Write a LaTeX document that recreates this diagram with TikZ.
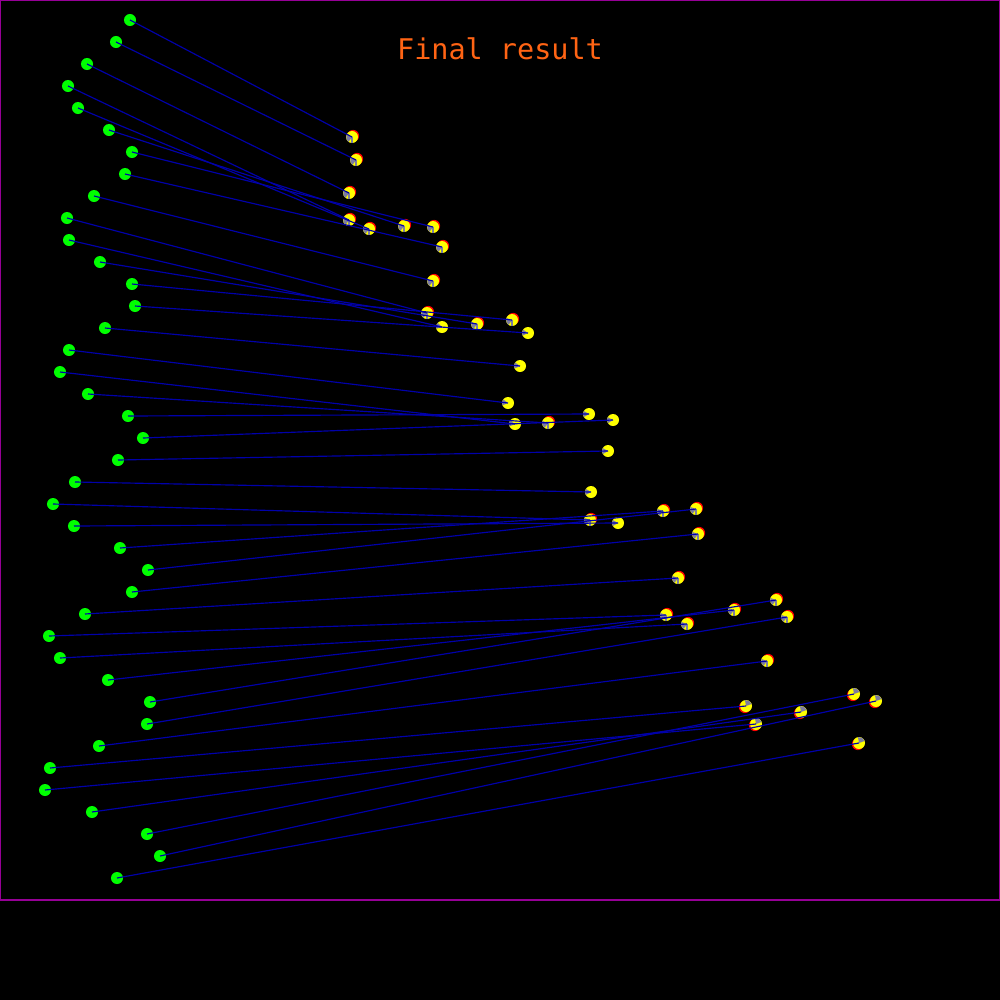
\documentclass[tikz,border=0pt]{standalone}
\usepackage{fontspec}
\newfontfamily\titlefont{DejaVu Sans Mono}
\usetikzlibrary{calc}
\definecolor{bg}{RGB}{0,0,0}
\definecolor{framec}{RGB}{150,0,150}
\definecolor{lnk}{RGB}{0,0,170}
\definecolor{srcc}{RGB}{0,255,0}
\definecolor{dstc}{RGB}{255,255,0}
\definecolor{ghostc}{RGB}{255,0,0}
\definecolor{wedgec}{RGB}{125,125,160}
\definecolor{ttl}{RGB}{255,100,20}
\tikzset{
  srcdot/.style={circle,fill=srcc,inner sep=0pt,minimum size=0.12cm},
  dstdot/.style={circle,fill=dstc,inner sep=0pt,minimum size=0.12cm},
  link/.style={draw=lnk,line width=0.33pt},
  wedgefill/.style={fill=wedgec},
  ghostfill/.style={fill=ghostc},
  titlestyle/.style={text=ttl,inner sep=0pt,font=\titlefont\fontsize{8.1pt}{10pt}\selectfont}
}
\begin{document}
\begin{tikzpicture}[x=0.01cm,y=-0.01cm]
\fill[bg] (0,0) rectangle (1000,1000);
\useasboundingbox (0,0) rectangle (1000,1000);
\draw[framec,line width=0.4pt] (0.7,0.7) rectangle (999.3,900);
\node[titlestyle] (title) at (500,49) {Final result};
\foreach \i/\gx/\gy/\tx/\ty/\r in {
1/130/20/352/137/1, 2/116/42/356/160/1, 3/87/64/349/193/1, 4/68/86/349/220/1,
5/78/108/369/229/1, 6/109/130/404/226/1, 7/132/152/433/227/1, 8/125/174/442/247/1,
9/94/196/433/281/1, 10/67/218/427/313/1, 11/69/240/442/327/0, 12/100/262/477/324/1,
13/132/284/512/320/1, 14/135/306/528/333/0, 15/105/328/520/366/0, 16/69/350/508/403/0,
17/60/372/515/424/0, 18/88/394/548/423/1, 19/128/416/589/414/0, 20/143/438/613/420/0,
21/118/460/608/451/0, 22/75/482/591/492/0, 23/53/504/590/520/1, 24/74/526/618/523/0,
25/120/548/663/511/1, 26/148/570/696/509/1, 27/132/592/698/534/1, 28/85/614/678/578/1,
29/49/636/666/615/1, 30/60/658/687/624/1, 31/108/680/734/610/1, 32/150/702/776/600/1,
33/147/724/787/617/1, 34/99/746/767/661/1, 35/50/768/746/706/2, 36/45/790/756/724/2,
37/92/812/801/712/2, 38/147/834/854/694/2, 39/160/856/876/701/2, 40/117/878/859/743/2}{
  \node[srcdot] (g\i) at (\gx,\gy) {};
  \ifnum\r=1
    \fill[ghostfill] (\tx,\ty) ++(0.32pt,0.32pt) circle[radius=1.7pt];
  \fi
  \ifnum\r=2
    \fill[ghostfill] (\tx,\ty) ++(-0.32pt,-0.32pt) circle[radius=1.7pt];
  \fi
  \node[dstdot] (t\i) at (\tx,\ty) {};
  \ifnum\r=0
    \path let \p1=($(g\i.center)-(t\i.center)$), \n1={atan2(\y1,\x1)} in
      [wedgefill] (t\i.center) -- ++(\n1-30:1.7pt) arc[start angle=\n1-30,end angle=\n1+30,radius=1.7pt] -- cycle;
  \fi
  \ifnum\r=1
    \fill[wedgefill] (t\i.center) -- ++(160:1.7pt) arc[start angle=160,end angle=235,radius=1.7pt] -- cycle;
    \fill[wedgefill] (t\i.center) ++(-0.22pt,0) rectangle ++(0.44pt,-1.7pt);
  \fi
  \ifnum\r=2
    \fill[wedgefill] (t\i.center) -- ++(20:1.7pt) arc[start angle=20,end angle=100,radius=1.7pt] -- cycle;
  \fi
}
\foreach \i in {1,...,40}{
  \draw[link] (g\i.center) -- (t\i.center);
}
\end{tikzpicture}
\end{document}
